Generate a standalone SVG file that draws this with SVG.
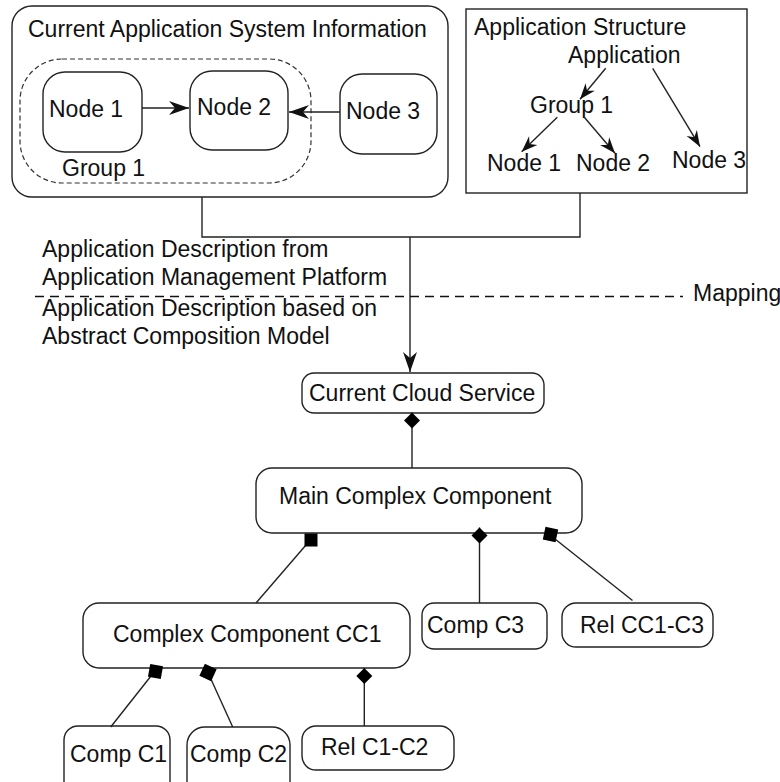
<svg xmlns="http://www.w3.org/2000/svg" width="780" height="782" viewBox="0 0 780 782">
<style>
  text { font-family: "Liberation Sans", Arial, sans-serif; font-size: 23px; fill: #111; }
  .box { fill: #fff; stroke: #222; stroke-width: 1.4; }
  .grp { fill: none; stroke: #333; stroke-width: 1.2; stroke-dasharray: 5 3; }
  .ln { fill: none; stroke: #222; stroke-width: 1.4; }
  .map { fill: none; stroke: #111; stroke-width: 1.6; stroke-dasharray: 9 6; }
  .sq { fill: #000; }
</style>
<defs>
  <marker id="arrowL" viewBox="-22 -9 24 18" refX="0" refY="0" markerWidth="24" markerHeight="18" markerUnits="userSpaceOnUse" orient="auto">
    <path d="M0,0 L-20,-7 L-14,0 L-20,7 Z" fill="#111"/>
  </marker>
  <marker id="arrowS" viewBox="-18 -8 20 16" refX="0" refY="0" markerWidth="20" markerHeight="16" markerUnits="userSpaceOnUse" orient="auto">
    <path d="M0,0 L-16,-6 L-11,0 L-16,6 Z" fill="#111"/>
  </marker>
  <marker id="diamond" viewBox="-1 -9 18 18" refX="0" refY="0" markerWidth="18" markerHeight="18" markerUnits="userSpaceOnUse" orient="auto">
    <path d="M0,0 L8,-8 L16,0 L8,8 Z" fill="#000"/>
  </marker>
  <rect id="square" class="sq" x="-6.5" y="-6.5" width="13" height="13"/>
</defs>
<rect width="780" height="782" fill="#fff"/>

<g id="current-app-info">
  <rect class="box" x="12" y="6" width="436" height="191" rx="20"/>
  <text x="28" y="37">Current Application System Information</text>
</g>
<g id="group1">
  <rect class="grp" x="20" y="59" width="291" height="124" rx="42"/>
  <text x="62" y="176">Group 1</text>
</g>
<g id="node1">
  <rect class="box" x="43" y="72" width="99" height="80" rx="22"/>
  <text x="49" y="117">Node 1</text>
</g>
<g id="node2">
  <rect class="box" x="190" y="71" width="98" height="79" rx="22"/>
  <text x="197" y="115">Node 2</text>
</g>
<g id="node3">
  <rect class="box" x="340" y="74" width="97" height="80" rx="22"/>
  <text x="346" y="119">Node 3</text>
</g>

<g id="app-structure">
  <rect class="box" x="466" y="9" width="281" height="184"/>
  <text x="474" y="35">Application Structure</text>
  <text x="568" y="63">Application</text>
  <text x="530" y="113">Group 1</text>
  <text x="487" y="171">Node 1</text>
  <text x="576" y="171">Node 2</text>
  <text x="672" y="168">Node 3</text>
</g>

<g id="labels">
  <text x="42" y="257">Application Description from</text>
  <text x="42" y="285">Application Management Platform</text>
  <text x="42" y="316">Application Description based on</text>
  <text x="42" y="344">Abstract Composition Model</text>
  <text x="693" y="301">Mapping</text>
</g>

<g id="current-cloud-service">
  <rect class="box" x="302" y="373" width="242" height="40" rx="12"/>
  <text x="309" y="401">Current Cloud Service</text>
</g>
<g id="main-complex-component">
  <rect class="box" x="256" y="468" width="326" height="65" rx="16"/>
  <text x="279" y="504">Main Complex Component</text>
</g>
<g id="complex-component-cc1">
  <rect class="box" x="83" y="603" width="327" height="65" rx="16"/>
  <text x="113" y="642">Complex Component CC1</text>
</g>
<g id="comp-c3">
  <rect class="box" x="422" y="603" width="125" height="46" rx="12"/>
  <text x="427" y="633">Comp C3</text>
</g>
<g id="rel-cc1-c3">
  <rect class="box" x="562" y="603" width="151" height="44" rx="14"/>
  <text x="580" y="633">Rel CC1-C3</text>
</g>
<g id="comp-c1">
  <rect class="box" x="64" y="726" width="106" height="80" rx="14"/>
  <text x="70" y="762">Comp C1</text>
</g>
<g id="comp-c2">
  <rect class="box" x="187" y="727" width="103" height="80" rx="18"/>
  <text x="190" y="762">Comp C2</text>
</g>
<g id="rel-c1-c2">
  <rect class="box" x="302" y="726" width="152" height="44" rx="14"/>
  <text x="321" y="755">Rel C1-C2</text>
</g>

<g id="connectors">
  <path class="ln" d="M142,108 H189" marker-end="url(#arrowL)"/>
  <path class="ln" d="M340,112 H289" marker-end="url(#arrowL)"/>
  <path class="ln" d="M605.7,68.3 L580,99.3" marker-end="url(#arrowS)"/>
  <path class="ln" d="M557.3,117.3 L521.7,151.7" marker-end="url(#arrowS)"/>
  <path class="ln" d="M584.3,117.3 L615,153.3" marker-end="url(#arrowS)"/>
  <path class="ln" d="M652.7,68.3 L700,146.7" marker-end="url(#arrowS)"/>
  <path class="ln" d="M202,197 V237 H580 V193"/>
  <path class="ln" d="M410,237 V372" marker-end="url(#arrowL)"/>
  <path class="map" d="M35,296.5 H683"/>
  <path class="ln" d="M412,412.5 V468" marker-start="url(#diamond)"/>
  <path class="ln" d="M306,545 L256,603"/>
  <use href="#square" transform="translate(311,540)"/>
  <path class="ln" d="M479.5,527.5 V603" marker-start="url(#diamond)"/>
  <path class="ln" d="M555,539 L632.5,600.5"/>
  <use href="#square" transform="translate(550.5,534.5) rotate(12)"/>
  <path class="ln" d="M151,676 L110.7,727"/>
  <use href="#square" transform="translate(155.5,671.5) rotate(10)"/>
  <path class="ln" d="M210,677 L232.7,727"/>
  <use href="#square" transform="translate(208,672.5) rotate(25)"/>
  <path class="ln" d="M364.3,668 V726" marker-start="url(#diamond)"/>
</g>
</svg>
